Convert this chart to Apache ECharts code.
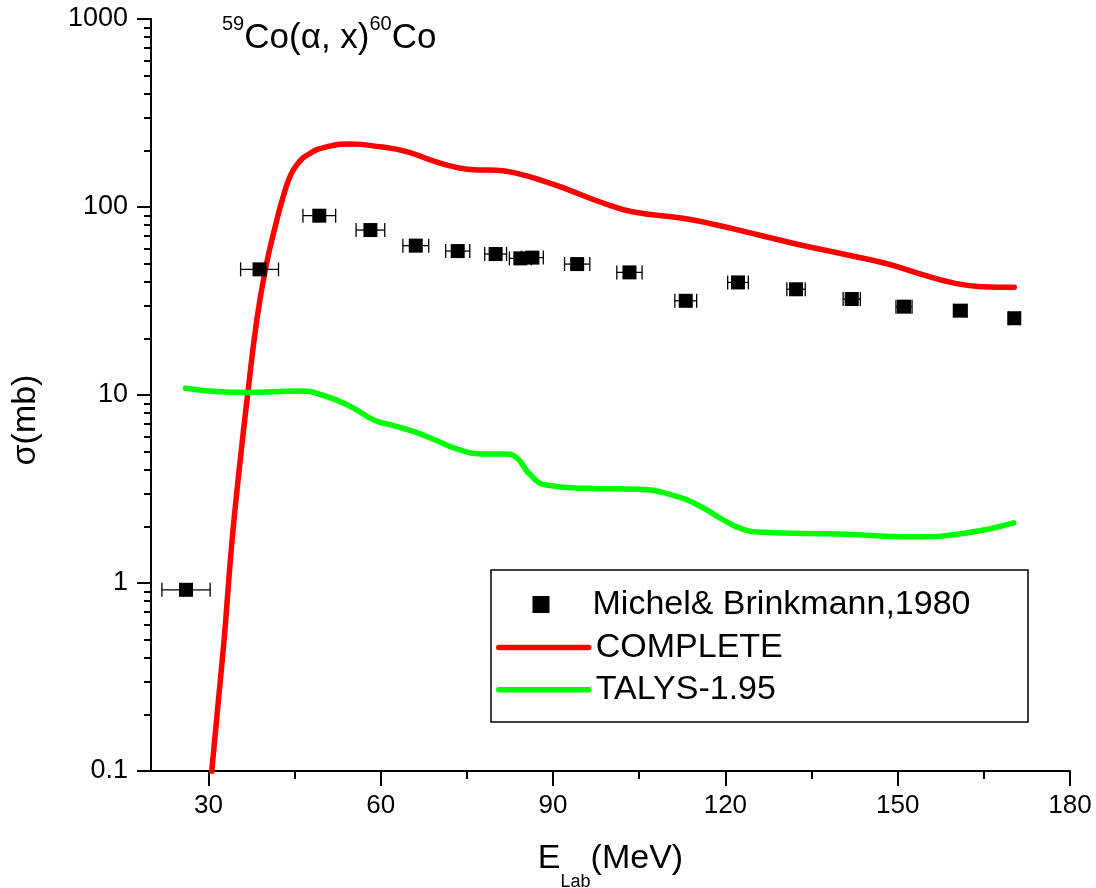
<!DOCTYPE html>
<html>
<head>
<meta charset="utf-8">
<title>59Co(alpha,x)60Co</title>
<script src="https://cdn.jsdelivr.net/npm/echarts@6/dist/echarts.min.js"></script>
<style>
    html, body { margin: 0; padding: 0; background: #fff; }
    #chart { width: 1096px; height: 888px; }
</style>
</head>
<body>
<div id="chart"></div>
<script>
// Michel & Brinkmann, 1980 (experimental points with energy error bars)
const expEnergy = [26.1, 38.9, 49.3, 58.2, 66.1, 73.4, 80.0, 84.3, 86.4, 94.2, 103.3, 113.1, 122.2, 132.3, 142.0, 151.1, 160.9, 170.3];
const expSigma = [0.92, 46.6, 89.9, 75.4, 62.3, 58.3, 56.2, 53.3, 53.8, 49.7, 44.9, 31.7, 39.7, 36.5, 32.4, 29.5, 28.1, 25.6];
const expEnergyErr = [4.2, 3.3, 2.85, 2.5, 2.25, 2.1, 1.9, 1.9, 1.9, 2.2, 2.2, 1.9, 1.8, 1.6, 1.5, 1.4, 1.2, 1.0];

// COMPLETE calculation
const completeEnergy = [30.4, 32.6, 34.05, 35.5, 36.9, 38.4, 40.0, 41.9, 43.0, 44.2, 45.6, 47.7, 50.6, 54.6, 59.9, 64.5, 69.1, 72.6, 76.1, 80.2, 83.7, 88.5, 92.8, 98.7, 103.8, 112.6, 118.5, 125.8, 133.1, 140.5, 147.8, 153.6, 159.5, 164.6, 170.3];
const completeSigma = [0.088, 0.45, 1.6, 4.4, 10.5, 24.8, 48, 85, 113, 145, 171, 193, 209, 216, 209, 197, 176, 164, 158, 157, 151, 137, 123, 105, 94.4, 87.1, 80.2, 71, 62.8, 56.2, 50.2, 44.4, 39.6, 37.7, 37.4];

// TALYS-1.95 calculation
const talysEnergy = [26.0, 36.8, 45.8, 49.8, 54.8, 58.8, 61.8, 65.8, 69.8, 73.8, 77.8, 81.8, 83.8, 85.8, 88.8, 95.8, 104.8, 111.7, 115.7, 119.7, 122.7, 125.7, 139.7, 152.7, 161.7, 170.2];
const talysSigma = [10.86, 10.3, 10.5, 10.0, 8.67, 7.36, 6.93, 6.38, 5.71, 5.1, 4.86, 4.85, 4.6, 3.83, 3.32, 3.19, 3.15, 2.88, 2.55, 2.16, 1.95, 1.87, 1.82, 1.76, 1.84, 2.09];

// axis ticks
const xMajorTicks = [30, 60, 90, 120, 150, 180];
const xMinorTicks = [45, 75, 105, 135, 165];
const yMajorTicks = [0.1, 1, 10, 100, 1000];
const yMinorTicks = [0.2, 0.3, 0.4, 0.5, 0.6, 0.7, 0.8, 0.9, 2, 3, 4, 5, 6, 7, 8, 9,
    20, 30, 40, 50, 60, 70, 80, 90, 200, 300, 400, 500, 600, 700, 800, 900];

const FONT = "'Liberation Sans', Arial, sans-serif";

function zip(xs, ys) {
    return xs.map(function (x, i) { return [x, ys[i]]; });
}

const expData = expEnergy.map(function (e, i) {
    return [e, expSigma[i], expEnergyErr[i]];
});

/**
 * Horizontal error bar with small end caps.
 */
function renderErrorBar(params, api) {
    const x = api.value(0);
    const y = api.value(1);
    const err = api.value(2);
    const left = api.coord([x - err, y]);
    const right = api.coord([x + err, y]);
    const cap = 7;
    const style = { stroke: '#000', lineWidth: 1.3 };
    return {
        type: 'group',
        children: [
            { type: 'line', shape: { x1: left[0], y1: left[1], x2: right[0], y2: right[1] }, style: style },
            { type: 'line', shape: { x1: left[0], y1: left[1] - cap, x2: left[0], y2: left[1] + cap }, style: style },
            { type: 'line', shape: { x1: right[0], y1: right[1] - cap, x2: right[0], y2: right[1] + cap }, style: style }
        ]
    };
}

function legendFor(name, left, top, width, textPad, isLine) {
    const legend = {
        data: [name],
        orient: 'vertical',
        left: left,
        top: top,
        padding: 0,
        itemWidth: width,
        itemHeight: 17,
        selectedMode: false,
        itemStyle: isLine ? { opacity: 0 } : { color: '#000', opacity: 1 },
        lineStyle: { width: 5.5, cap: 'round' },
        textStyle: {
            fontFamily: FONT,
            fontSize: 34,
            lineHeight: 17,
            color: '#000',
            padding: [0, 0, 0, textPad]
        }
    };
    if (!isLine) {
        legend.icon = 'rect';
    }
    return legend;
}

const axisLineStyle = { color: '#000', width: 2 };

const chart = echarts.init(document.getElementById('chart'), null, { renderer: 'canvas' });

const options = {
    animation: false,
    backgroundColor: '#fff',
    title: {
        text: '{sup|59}{main|Co(α, x)}{sup|60}{main|Co}',
        left: 222,
        top: 14,
        padding: 0,
        textStyle: {
            fontWeight: 'normal',
            rich: {
                sup: { fontFamily: FONT, fontSize: 20, fontWeight: 'normal', verticalAlign: 'top', padding: [0, 0, 0, 0], color: '#000' },
                main: { fontFamily: FONT, fontSize: 35, fontWeight: 'normal', verticalAlign: 'top', padding: [6.5, 0, 0, 0], color: '#000' }
            }
        }
    },
    grid: {
        left: 151,
        right: 26,
        top: 19,
        bottom: 117,
        containLabel: false,
        outerBoundsMode: 'none'
    },
    legend: [
        legendFor('Michel& Brinkmann,1980', 532.5, 587.5, 17, 38, false),
        legendFor('COMPLETE', 496, 630.5, 90, 2, true),
        legendFor('TALYS-1.95', 496, 672.8, 90, 2, true)
    ],
    graphic: [{
        type: 'rect',
        shape: { x: 491, y: 570, width: 537, height: 152 },
        style: { fill: 'transparent', stroke: '#000', lineWidth: 1.5 },
        z: 1
    }],
    xAxis: [{
        type: 'value',
        position: 'bottom',
        min: 20,
        max: 180,
        name: '{main|E}{sub|Lab}{main|(MeV)}',
        nameLocation: 'middle',
        nameGap: 71,
        nameTextStyle: {
            rich: {
                main: { fontFamily: FONT, fontSize: 34, verticalAlign: 'top', padding: [0, 0, 0, 0], color: '#000' },
                sub: { fontFamily: FONT, fontSize: 18, verticalAlign: 'top', padding: [31, 0, 0, 0], color: '#000' }
            }
        },
        axisLine: { onZero: false, lineStyle: axisLineStyle },
        axisTick: { customValues: xMajorTicks, length: 15, lineStyle: axisLineStyle },
        axisLabel: { customValues: xMajorTicks, margin: 22, fontFamily: FONT, fontSize: 26, color: '#000' },
        splitLine: { show: false }
    }, {
        // minor ticks only
        type: 'value',
        position: 'bottom',
        min: 20,
        max: 180,
        axisLine: { show: false, onZero: false },
        axisTick: { customValues: xMinorTicks, length: 8, lineStyle: axisLineStyle },
        axisLabel: { show: false },
        splitLine: { show: false }
    }],
    yAxis: [{
        type: 'log',
        logBase: 10,
        position: 'left',
        min: 0.1,
        max: 1000,
        name: 'σ(mb)',
        nameLocation: 'middle',
        nameRotate: 90,
        nameGap: 108,
        nameTextStyle: {
            fontFamily: FONT,
            fontSize: 34,
            color: '#000',
            padding: [0, 50, 0, 0]
        },
        axisLine: { onZero: false, lineStyle: axisLineStyle },
        axisTick: { customValues: yMajorTicks, length: 14, lineStyle: axisLineStyle },
        axisLabel: {
            customValues: yMajorTicks,
            margin: 23,
            fontFamily: FONT,
            fontSize: 27,
            color: '#000',
            formatter: function (v) { return String(+(+v).toPrecision(3)); }
        },
        splitLine: { show: false }
    }, {
        // minor ticks only
        type: 'log',
        logBase: 10,
        position: 'left',
        min: 0.1,
        max: 1000,
        axisLine: { show: false, onZero: false },
        axisTick: { customValues: yMinorTicks, length: 7, lineStyle: axisLineStyle },
        axisLabel: { show: false },
        splitLine: { show: false }
    }],
    series: [{
        name: 'COMPLETE',
        type: 'line',
        data: zip(completeEnergy, completeSigma),
        symbol: 'none',
        smooth: 0.5,
        color: '#ff0000',
        lineStyle: { color: '#ff0000', width: 5.5, cap: 'round', join: 'round' },
        z: 2
    }, {
        name: 'TALYS-1.95',
        type: 'line',
        data: zip(talysEnergy, talysSigma),
        symbol: 'none',
        smooth: 0.5,
        color: '#00ff00',
        lineStyle: { color: '#00ff00', width: 5.5, cap: 'round', join: 'round' },
        z: 2
    }, {
        name: 'Michel& Brinkmann,1980',
        type: 'custom',
        data: expData,
        encode: { x: 0, y: 1 },
        renderItem: renderErrorBar,
        color: '#000',
        itemStyle: { color: '#000' },
        silent: true,
        z: 3
    }, {
        name: 'Michel& Brinkmann,1980',
        type: 'scatter',
        data: expData,
        encode: { x: 0, y: 1 },
        symbol: 'rect',
        symbolSize: 14,
        color: '#000',
        itemStyle: { color: '#000', opacity: 1 },
        z: 4
    }]
};

chart.setOption(options);
</script>
</body>
</html>
